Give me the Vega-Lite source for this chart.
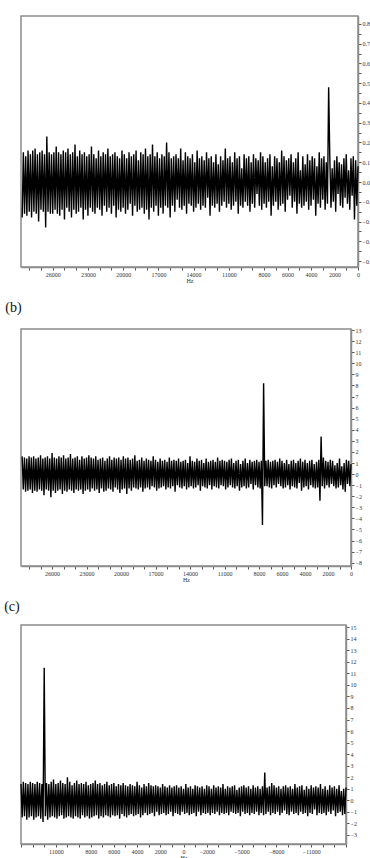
{
"$schema": "https://vega.github.io/schema/vega-lite/v6.json",
"background": "white",
"padding": {"left": 3, "top": 15, "right": 0, "bottom": 0},
"spacing": 16,
"config": {
 "view": {"stroke": "#8c8c8c", "strokeWidth": 1.5},
 "axis": {"labelFont": "Liberation Serif", "titleFont": "Liberation Serif", "labelFontSize": 6, "titleFontSize": 6, "titleFontWeight": "normal", "grid": false, "domainColor": "#8c8c8c", "domainWidth": 1.5, "tickColor": "#555555", "labelColor": "#333333", "titleColor": "#333333", "tickSize": 3, "labelPadding": 1, "titlePadding": 0, "labelOverlap": false, "labelFlush": false},
 "title": {"font": "Liberation Serif", "fontSize": 14, "fontWeight": "normal", "anchor": "start", "dx": -14, "offset": 12, "color": "#111111"}
},
"datasets": {
"a": [
{"f":0,"v":0.08},{"f":100,"v":-0.12},{"f":200,"v":0.11},{"f":300,"v":-0.19},{"f":400,"v":0.13},{"f":500,"v":-0.07},{"f":600,"v":0.12},{"f":700,"v":-0.14},{"f":800,"v":0.06},{"f":900,"v":-0.11},
{"f":1000,"v":0.14},{"f":1100,"v":-0.08},{"f":1200,"v":0.12},{"f":1300,"v":-0.13},{"f":1400,"v":0.09},{"f":1500,"v":-0.12},{"f":1600,"v":0.1},{"f":1700,"v":-0.06},{"f":1800,"v":0.13},{"f":1900,"v":-0.15},
{"f":2000,"v":0.11},{"f":2100,"v":-0.1},{"f":2200,"v":0.07},{"f":2300,"v":-0.13},{"f":2400,"v":0.12},{"f":2500,"v":0.48},{"f":2600,"v":-0.11},{"f":2700,"v":0.1},{"f":2800,"v":-0.14},{"f":2900,"v":0.13},
{"f":3000,"v":-0.09},{"f":3100,"v":0.12},{"f":3200,"v":-0.13},{"f":3300,"v":0.15},{"f":3400,"v":-0.11},{"f":3500,"v":0.08},{"f":3600,"v":-0.17},{"f":3700,"v":0.12},{"f":3800,"v":-0.09},{"f":3900,"v":0.13},
{"f":4000,"v":-0.12},{"f":4100,"v":0.11},{"f":4200,"v":-0.14},{"f":4300,"v":0.14},{"f":4400,"v":-0.1},{"f":4500,"v":0.09},{"f":4600,"v":-0.12},{"f":4700,"v":0.13},{"f":4800,"v":-0.13},{"f":4900,"v":0.06},
{"f":5000,"v":-0.11},{"f":5100,"v":0.15},{"f":5200,"v":-0.16},{"f":5300,"v":0.12},{"f":5400,"v":-0.1},{"f":5500,"v":0.1},{"f":5600,"v":-0.13},{"f":5700,"v":0.14},{"f":5800,"v":-0.07},{"f":5900,"v":0.12},
{"f":6000,"v":-0.09},{"f":6100,"v":0.11},{"f":6200,"v":-0.15},{"f":6300,"v":0.13},{"f":6400,"v":-0.11},{"f":6500,"v":0.16},{"f":6600,"v":-0.12},{"f":6700,"v":0.1},{"f":6800,"v":-0.14},{"f":6900,"v":0.12},
{"f":7000,"v":-0.1},{"f":7100,"v":0.13},{"f":7200,"v":-0.12},{"f":7300,"v":0.08},{"f":7400,"v":-0.17},{"f":7500,"v":0.14},{"f":7600,"v":-0.1},{"f":7700,"v":0.12},{"f":7800,"v":-0.13},{"f":7900,"v":0.1},
{"f":8000,"v":-0.11},{"f":8100,"v":0.13},{"f":8200,"v":-0.14},{"f":8300,"v":0.15},{"f":8400,"v":-0.12},{"f":8500,"v":0.11},{"f":8600,"v":-0.06},{"f":8700,"v":0.12},{"f":8800,"v":-0.13},{"f":8900,"v":0.14},
{"f":9000,"v":-0.11},{"f":9100,"v":0.1},{"f":9200,"v":-0.15},{"f":9300,"v":0.13},{"f":9400,"v":-0.12},{"f":9500,"v":0.12},{"f":9600,"v":-0.1},{"f":9700,"v":0.14},{"f":9800,"v":-0.13},{"f":9900,"v":0.07},
{"f":10000,"v":-0.12},{"f":10100,"v":0.13},{"f":10200,"v":-0.16},{"f":10300,"v":0.12},{"f":10400,"v":-0.1},{"f":10500,"v":0.15},{"f":10600,"v":-0.12},{"f":10700,"v":0.1},{"f":10800,"v":-0.14},{"f":10900,"v":0.13},
{"f":11000,"v":-0.11},{"f":11100,"v":0.12},{"f":11200,"v":-0.13},{"f":11300,"v":0.17},{"f":11400,"v":-0.1},{"f":11500,"v":0.11},{"f":11600,"v":-0.12},{"f":11700,"v":0.13},{"f":11800,"v":-0.15},{"f":11900,"v":0.09},
{"f":12000,"v":-0.11},{"f":12100,"v":0.14},{"f":12200,"v":-0.13},{"f":12300,"v":0.1},{"f":12400,"v":-0.12},{"f":12500,"v":0.13},{"f":12600,"v":-0.17},{"f":12700,"v":0.12},{"f":12800,"v":-0.08},{"f":12900,"v":0.15},
{"f":13000,"v":-0.13},{"f":13100,"v":0.11},{"f":13200,"v":-0.12},{"f":13300,"v":0.13},{"f":13400,"v":-0.14},{"f":13500,"v":0.12},{"f":13600,"v":-0.11},{"f":13700,"v":0.16},{"f":13800,"v":-0.13},{"f":13900,"v":0.1},
{"f":14000,"v":-0.15},{"f":14100,"v":0.14},{"f":14200,"v":-0.12},{"f":14300,"v":0.12},{"f":14400,"v":-0.11},{"f":14500,"v":0.13},{"f":14600,"v":-0.16},{"f":14700,"v":0.15},{"f":14800,"v":-0.12},{"f":14900,"v":0.11},
{"f":15000,"v":-0.14},{"f":15100,"v":0.17},{"f":15200,"v":-0.13},{"f":15300,"v":0.12},{"f":15400,"v":-0.09},{"f":15500,"v":0.14},{"f":15600,"v":-0.15},{"f":15700,"v":0.13},{"f":15800,"v":-0.12},{"f":15900,"v":0.12},
{"f":16000,"v":-0.18},{"f":16100,"v":0.15},{"f":16200,"v":-0.13},{"f":16300,"v":0.2},{"f":16400,"v":-0.12},{"f":16500,"v":0.13},{"f":16600,"v":-0.16},{"f":16700,"v":0.14},{"f":16800,"v":-0.13},{"f":16900,"v":0.12},
{"f":17000,"v":-0.17},{"f":17100,"v":0.15},{"f":17200,"v":-0.12},{"f":17300,"v":0.13},{"f":17400,"v":-0.15},{"f":17500,"v":0.19},{"f":17600,"v":-0.13},{"f":17700,"v":0.14},{"f":17800,"v":-0.19},{"f":17900,"v":0.13},
{"f":18000,"v":-0.14},{"f":18100,"v":0.17},{"f":18200,"v":-0.16},{"f":18300,"v":0.14},{"f":18400,"v":-0.13},{"f":18500,"v":0.15},{"f":18600,"v":-0.14},{"f":18700,"v":0.11},{"f":18800,"v":-0.15},{"f":18900,"v":0.16},
{"f":19000,"v":-0.12},{"f":19100,"v":0.14},{"f":19200,"v":-0.17},{"f":19300,"v":0.13},{"f":19400,"v":-0.11},{"f":19500,"v":0.15},{"f":19600,"v":-0.14},{"f":19700,"v":0.12},{"f":19800,"v":-0.16},{"f":19900,"v":0.14},
{"f":20000,"v":-0.13},{"f":20100,"v":0.16},{"f":20200,"v":-0.15},{"f":20300,"v":0.12},{"f":20400,"v":-0.14},{"f":20500,"v":0.13},{"f":20600,"v":-0.18},{"f":20700,"v":0.15},{"f":20800,"v":-0.12},{"f":20900,"v":0.14},
{"f":21000,"v":-0.16},{"f":21100,"v":0.13},{"f":21200,"v":-0.13},{"f":21300,"v":0.17},{"f":21400,"v":-0.15},{"f":21500,"v":0.14},{"f":21600,"v":-0.12},{"f":21700,"v":0.15},{"f":21800,"v":-0.17},{"f":21900,"v":0.13},
{"f":22000,"v":-0.14},{"f":22100,"v":0.16},{"f":22200,"v":-0.13},{"f":22300,"v":0.12},{"f":22400,"v":-0.16},{"f":22500,"v":0.14},{"f":22600,"v":-0.15},{"f":22700,"v":0.18},{"f":22800,"v":-0.13},{"f":22900,"v":0.14},
{"f":23000,"v":-0.17},{"f":23100,"v":0.13},{"f":23200,"v":-0.14},{"f":23300,"v":0.15},{"f":23400,"v":-0.19},{"f":23500,"v":0.14},{"f":23600,"v":-0.13},{"f":23700,"v":0.16},{"f":23800,"v":-0.15},{"f":23900,"v":0.13},
{"f":24000,"v":-0.16},{"f":24100,"v":0.19},{"f":24200,"v":-0.14},{"f":24300,"v":0.15},{"f":24400,"v":-0.18},{"f":24500,"v":0.14},{"f":24600,"v":-0.15},{"f":24700,"v":0.17},{"f":24800,"v":-0.13},{"f":24900,"v":0.15},
{"f":25000,"v":-0.19},{"f":25100,"v":0.16},{"f":25200,"v":-0.14},{"f":25300,"v":0.14},{"f":25400,"v":-0.17},{"f":25500,"v":0.15},{"f":25600,"v":-0.16},{"f":25700,"v":0.18},{"f":25800,"v":-0.14},{"f":25900,"v":0.15},
{"f":26000,"v":-0.16},{"f":26100,"v":0.14},{"f":26200,"v":-0.16},{"f":26300,"v":0.15},{"f":26400,"v":-0.15},{"f":26500,"v":0.23},{"f":26600,"v":-0.23},{"f":26700,"v":0.14},{"f":26800,"v":-0.15},{"f":26900,"v":0.16},
{"f":27000,"v":-0.14},{"f":27100,"v":0.15},{"f":27200,"v":-0.2},{"f":27300,"v":0.14},{"f":27400,"v":-0.16},{"f":27500,"v":0.17},{"f":27600,"v":-0.15},{"f":27700,"v":0.16},{"f":27800,"v":-0.18},{"f":27900,"v":0.14},
{"f":28000,"v":-0.15},{"f":28100,"v":0.16},{"f":28200,"v":-0.17},{"f":28300,"v":0.13},{"f":28400,"v":-0.16},{"f":28500,"v":0.15},{"f":28600,"v":-0.18}],
"b": [
{"f":0,"v":0.9},{"f":100,"v":-1.1},{"f":200,"v":1.2},{"f":300,"v":-0.9},{"f":400,"v":1.3},{"f":500,"v":-1.6},{"f":600,"v":1.0},{"f":700,"v":-1.4},{"f":800,"v":0.7},{"f":900,"v":-1.0},
{"f":1000,"v":1.4},{"f":1100,"v":-1.2},{"f":1200,"v":1.0},{"f":1300,"v":-1.3},{"f":1400,"v":0.8},{"f":1500,"v":-1.1},{"f":1600,"v":1.2},{"f":1700,"v":-0.9},{"f":1800,"v":1.3},{"f":1900,"v":-1.2},
{"f":2000,"v":1.1},{"f":2100,"v":-1.0},{"f":2200,"v":1.2},{"f":2300,"v":-1.3},{"f":2400,"v":1.5},{"f":2500,"v":-1.1},{"f":2600,"v":3.4},{"f":2700,"v":-2.4},{"f":2800,"v":1.3},{"f":2900,"v":-1.2},
{"f":3000,"v":1.1},{"f":3100,"v":-1.3},{"f":3200,"v":0.9},{"f":3300,"v":-1.2},{"f":3400,"v":1.3},{"f":3500,"v":-1.0},{"f":3600,"v":1.2},{"f":3700,"v":-1.4},{"f":3800,"v":1.0},{"f":3900,"v":-1.1},
{"f":4000,"v":1.3},{"f":4100,"v":-1.2},{"f":4200,"v":1.1},{"f":4300,"v":-1.5},{"f":4400,"v":1.4},{"f":4500,"v":-0.8},{"f":4600,"v":1.2},{"f":4700,"v":-1.3},{"f":4800,"v":1.0},{"f":4900,"v":-1.2},
{"f":5000,"v":1.3},{"f":5100,"v":-1.1},{"f":5200,"v":1.2},{"f":5300,"v":-1.4},{"f":5400,"v":0.9},{"f":5500,"v":-1.0},{"f":5600,"v":1.3},{"f":5700,"v":-1.2},{"f":5800,"v":1.0},{"f":5900,"v":-1.3},
{"f":6000,"v":1.2},{"f":6100,"v":-1.1},{"f":6200,"v":1.4},{"f":6300,"v":-0.9},{"f":6400,"v":1.1},{"f":6500,"v":-1.2},{"f":6600,"v":1.3},{"f":6700,"v":-1.0},{"f":6800,"v":1.2},{"f":6900,"v":-1.3},
{"f":7000,"v":1.1},{"f":7100,"v":-1.2},{"f":7200,"v":1.3},{"f":7300,"v":-1.1},{"f":7400,"v":1.2},{"f":7500,"v":-1.1},{"f":7600,"v":8.2},{"f":7700,"v":-4.6},{"f":7800,"v":1.2},{"f":7900,"v":-1.3},
{"f":8000,"v":1.1},{"f":8100,"v":-1.2},{"f":8200,"v":1.3},{"f":8300,"v":-1.0},{"f":8400,"v":1.2},{"f":8500,"v":-1.4},{"f":8600,"v":1.1},{"f":8700,"v":-0.9},{"f":8800,"v":1.3},{"f":8900,"v":-1.2},
{"f":9000,"v":1.0},{"f":9100,"v":-1.3},{"f":9200,"v":1.4},{"f":9300,"v":-1.1},{"f":9400,"v":1.2},{"f":9500,"v":-1.2},{"f":9600,"v":0.9},{"f":9700,"v":-1.5},{"f":9800,"v":1.3},{"f":9900,"v":-1.1},
{"f":10000,"v":1.2},{"f":10100,"v":-1.3},{"f":10200,"v":1.0},{"f":10300,"v":-1.2},{"f":10400,"v":1.4},{"f":10500,"v":-1.0},{"f":10600,"v":1.3},{"f":10700,"v":-1.2},{"f":10800,"v":1.1},{"f":10900,"v":-1.4},
{"f":11000,"v":1.2},{"f":11100,"v":-1.1},{"f":11200,"v":1.3},{"f":11300,"v":-1.0},{"f":11400,"v":1.2},{"f":11500,"v":-1.3},{"f":11600,"v":1.5},{"f":11700,"v":-1.2},{"f":11800,"v":1.1},{"f":11900,"v":-1.1},
{"f":12000,"v":1.3},{"f":12100,"v":-1.4},{"f":12200,"v":1.2},{"f":12300,"v":-1.0},{"f":12400,"v":1.1},{"f":12500,"v":-1.3},{"f":12600,"v":1.4},{"f":12700,"v":-1.2},{"f":12800,"v":1.0},{"f":12900,"v":-1.1},
{"f":13000,"v":1.3},{"f":13100,"v":-1.5},{"f":13200,"v":1.2},{"f":13300,"v":-1.0},{"f":13400,"v":1.4},{"f":13500,"v":-1.2},{"f":13600,"v":1.1},{"f":13700,"v":-1.3},{"f":13800,"v":1.2},{"f":13900,"v":-1.1},
{"f":14000,"v":1.6},{"f":14100,"v":-1.2},{"f":14200,"v":1.0},{"f":14300,"v":-1.4},{"f":14400,"v":1.3},{"f":14500,"v":-1.1},{"f":14600,"v":1.2},{"f":14700,"v":-1.3},{"f":14800,"v":1.1},{"f":14900,"v":-1.2},
{"f":15000,"v":1.4},{"f":15100,"v":-1.0},{"f":15200,"v":1.2},{"f":15300,"v":-1.6},{"f":15400,"v":1.3},{"f":15500,"v":-1.1},{"f":15600,"v":1.2},{"f":15700,"v":-1.3},{"f":15800,"v":1.5},{"f":15900,"v":-1.2},
{"f":16000,"v":1.1},{"f":16100,"v":-1.4},{"f":16200,"v":1.3},{"f":16300,"v":-1.1},{"f":16400,"v":1.2},{"f":16500,"v":-1.2},{"f":16600,"v":1.4},{"f":16700,"v":-1.3},{"f":16800,"v":1.1},{"f":16900,"v":-1.5},
{"f":17000,"v":1.3},{"f":17100,"v":-1.2},{"f":17200,"v":1.6},{"f":17300,"v":-1.1},{"f":17400,"v":1.2},{"f":17500,"v":-1.4},{"f":17600,"v":1.3},{"f":17700,"v":-1.2},{"f":17800,"v":1.4},{"f":17900,"v":-1.3},
{"f":18000,"v":1.2},{"f":18100,"v":-1.6},{"f":18200,"v":1.5},{"f":18300,"v":-1.2},{"f":18400,"v":1.3},{"f":18500,"v":-1.4},{"f":18600,"v":1.2},{"f":18700,"v":-1.3},{"f":18800,"v":1.7},{"f":18900,"v":-1.2},
{"f":19000,"v":1.4},{"f":19100,"v":-1.5},{"f":19200,"v":1.3},{"f":19300,"v":-1.3},{"f":19400,"v":1.5},{"f":19500,"v":-1.8},{"f":19600,"v":1.4},{"f":19700,"v":-1.3},{"f":19800,"v":1.6},{"f":19900,"v":-1.4},
{"f":20000,"v":1.3},{"f":20100,"v":-1.7},{"f":20200,"v":1.5},{"f":20300,"v":-1.4},{"f":20400,"v":1.4},{"f":20500,"v":-1.2},{"f":20600,"v":1.5},{"f":20700,"v":-1.6},{"f":20800,"v":1.3},{"f":20900,"v":-1.4},
{"f":21000,"v":1.6},{"f":21100,"v":-1.3},{"f":21200,"v":1.4},{"f":21300,"v":-1.5},{"f":21400,"v":1.2},{"f":21500,"v":-1.6},{"f":21600,"v":1.5},{"f":21700,"v":-1.3},{"f":21800,"v":1.4},{"f":21900,"v":-1.7},
{"f":22000,"v":1.3},{"f":22100,"v":-1.4},{"f":22200,"v":1.6},{"f":22300,"v":-1.5},{"f":22400,"v":1.4},{"f":22500,"v":-1.3},{"f":22600,"v":1.5},{"f":22700,"v":-1.6},{"f":22800,"v":1.7},{"f":22900,"v":-1.4},
{"f":23000,"v":1.5},{"f":23100,"v":-1.5},{"f":23200,"v":1.4},{"f":23300,"v":-1.8},{"f":23400,"v":1.6},{"f":23500,"v":-1.4},{"f":23600,"v":1.3},{"f":23700,"v":-1.5},{"f":23800,"v":1.6},{"f":23900,"v":-1.4},
{"f":24000,"v":1.5},{"f":24100,"v":-1.7},{"f":24200,"v":1.4},{"f":24300,"v":-1.5},{"f":24400,"v":1.8},{"f":24500,"v":-1.4},{"f":24600,"v":1.5},{"f":24700,"v":-1.6},{"f":24800,"v":1.4},{"f":24900,"v":-1.5},
{"f":25000,"v":1.7},{"f":25100,"v":-1.8},{"f":25200,"v":1.5},{"f":25300,"v":-1.4},{"f":25400,"v":1.6},{"f":25500,"v":-1.5},{"f":25600,"v":1.4},{"f":25700,"v":-1.7},{"f":25800,"v":1.5},{"f":25900,"v":-1.5},
{"f":26000,"v":1.9},{"f":26100,"v":-2.1},{"f":26200,"v":1.4},{"f":26300,"v":-1.5},{"f":26400,"v":1.6},{"f":26500,"v":-1.4},{"f":26600,"v":1.5},{"f":26700,"v":-1.9},{"f":26800,"v":1.4},{"f":26900,"v":-1.5},
{"f":27000,"v":1.7},{"f":27100,"v":-1.4},{"f":27200,"v":1.5},{"f":27300,"v":-1.6},{"f":27400,"v":1.4},{"f":27500,"v":-1.5},{"f":27600,"v":1.6},{"f":27700,"v":-1.7},{"f":27800,"v":1.5},{"f":27900,"v":-1.4},
{"f":28000,"v":1.6},{"f":28100,"v":-1.5},{"f":28200,"v":1.4},{"f":28300,"v":-1.6},{"f":28400,"v":1.5},{"f":28500,"v":-1.4},{"f":28600,"v":1.6}],
"c": [
{"f":-14000,"v":1.1},{"f":-13900,"v":-1.2},{"f":-13800,"v":1.0},{"f":-13700,"v":-1.3},{"f":-13600,"v":0.8},{"f":-13500,"v":-1.0},{"f":-13400,"v":1.3},{"f":-13300,"v":-1.1},{"f":-13200,"v":1.0},{"f":-13100,"v":-1.4},
{"f":-13000,"v":1.2},{"f":-12900,"v":-0.9},{"f":-12800,"v":1.1},{"f":-12700,"v":-1.2},{"f":-12600,"v":1.3},{"f":-12500,"v":-1.0},{"f":-12400,"v":0.9},{"f":-12300,"v":-1.3},{"f":-12200,"v":1.2},{"f":-12100,"v":-1.1},
{"f":-12000,"v":1.0},{"f":-11900,"v":-1.2},{"f":-11800,"v":1.4},{"f":-11700,"v":-1.1},{"f":-11600,"v":1.1},{"f":-11500,"v":-1.3},{"f":-11400,"v":1.2},{"f":-11300,"v":-0.8},{"f":-11200,"v":1.1},{"f":-11100,"v":-1.2},
{"f":-11000,"v":1.3},{"f":-10900,"v":-1.1},{"f":-10800,"v":1.0},{"f":-10700,"v":-1.4},{"f":-10600,"v":1.2},{"f":-10500,"v":-1.1},{"f":-10400,"v":0.9},{"f":-10300,"v":-1.2},{"f":-10200,"v":1.3},{"f":-10100,"v":-1.0},
{"f":-10000,"v":1.2},{"f":-9900,"v":-1.3},{"f":-9800,"v":1.1},{"f":-9700,"v":-1.1},{"f":-9600,"v":1.4},{"f":-9500,"v":-1.2},{"f":-9400,"v":1.0},{"f":-9300,"v":-1.0},{"f":-9200,"v":1.2},{"f":-9100,"v":-1.3},
{"f":-9000,"v":1.1},{"f":-8900,"v":-1.2},{"f":-8800,"v":1.3},{"f":-8700,"v":-0.9},{"f":-8600,"v":1.2},{"f":-8500,"v":-1.1},{"f":-8400,"v":1.0},{"f":-8300,"v":-1.3},{"f":-8200,"v":1.2},{"f":-8100,"v":-1.0},
{"f":-8000,"v":1.1},{"f":-7900,"v":-1.2},{"f":-7800,"v":1.3},{"f":-7700,"v":-1.1},{"f":-7600,"v":1.5},{"f":-7500,"v":-1.3},{"f":-7400,"v":1.2},{"f":-7300,"v":-1.0},{"f":-7200,"v":1.1},{"f":-7100,"v":-1.2},
{"f":-7000,"v":2.4},{"f":-6900,"v":-1.3},{"f":-6800,"v":1.2},{"f":-6700,"v":-1.1},{"f":-6600,"v":1.0},{"f":-6500,"v":-1.3},{"f":-6400,"v":1.2},{"f":-6300,"v":-1.0},{"f":-6200,"v":1.1},{"f":-6100,"v":-1.2},
{"f":-6000,"v":1.3},{"f":-5900,"v":-1.1},{"f":-5800,"v":1.0},{"f":-5700,"v":-1.3},{"f":-5600,"v":1.2},{"f":-5500,"v":-1.1},{"f":-5400,"v":1.1},{"f":-5300,"v":-1.2},{"f":-5200,"v":1.3},{"f":-5100,"v":-1.0},
{"f":-5000,"v":1.2},{"f":-4900,"v":-1.4},{"f":-4800,"v":1.1},{"f":-4700,"v":-1.1},{"f":-4600,"v":0.9},{"f":-4500,"v":-1.2},{"f":-4400,"v":1.3},{"f":-4300,"v":-1.1},{"f":-4200,"v":1.2},{"f":-4100,"v":-1.0},
{"f":-4000,"v":1.1},{"f":-3900,"v":-1.3},{"f":-3800,"v":1.2},{"f":-3700,"v":-1.1},{"f":-3600,"v":1.0},{"f":-3500,"v":-1.2},{"f":-3400,"v":1.4},{"f":-3300,"v":-1.1},{"f":-3200,"v":1.1},{"f":-3100,"v":-1.3},
{"f":-3000,"v":1.2},{"f":-2900,"v":-1.0},{"f":-2800,"v":1.1},{"f":-2700,"v":-1.2},{"f":-2600,"v":1.3},{"f":-2500,"v":-1.1},{"f":-2400,"v":1.0},{"f":-2300,"v":-1.3},{"f":-2200,"v":1.2},{"f":-2100,"v":-1.1},
{"f":-2000,"v":1.3},{"f":-1900,"v":-1.2},{"f":-1800,"v":1.0},{"f":-1700,"v":-1.1},{"f":-1600,"v":1.2},{"f":-1500,"v":-1.3},{"f":-1400,"v":1.1},{"f":-1300,"v":-1.0},{"f":-1200,"v":1.2},{"f":-1100,"v":-1.4},
{"f":-1000,"v":1.3},{"f":-900,"v":-1.1},{"f":-800,"v":1.0},{"f":-700,"v":-1.2},{"f":-600,"v":1.2},{"f":-500,"v":-1.3},{"f":-400,"v":1.1},{"f":-300,"v":-1.1},{"f":-200,"v":1.4},{"f":-100,"v":-1.2},
{"f":0,"v":1.0},{"f":100,"v":-1.0},{"f":200,"v":1.2},{"f":300,"v":-1.3},{"f":400,"v":1.1},{"f":500,"v":-1.2},{"f":600,"v":1.3},{"f":700,"v":-1.1},{"f":800,"v":1.2},{"f":900,"v":-1.4},
{"f":1000,"v":1.1},{"f":1100,"v":-1.0},{"f":1200,"v":1.3},{"f":1300,"v":-1.2},{"f":1400,"v":1.1},{"f":1500,"v":-1.3},{"f":1600,"v":1.2},{"f":1700,"v":-1.1},{"f":1800,"v":1.4},{"f":1900,"v":-1.2},
{"f":2000,"v":1.1},{"f":2100,"v":-1.3},{"f":2200,"v":1.2},{"f":2300,"v":-1.0},{"f":2400,"v":1.3},{"f":2500,"v":-1.4},{"f":2600,"v":1.2},{"f":2700,"v":-1.1},{"f":2800,"v":1.3},{"f":2900,"v":-1.2},
{"f":3000,"v":1.5},{"f":3100,"v":-1.3},{"f":3200,"v":1.2},{"f":3300,"v":-1.1},{"f":3400,"v":1.4},{"f":3500,"v":-1.3},{"f":3600,"v":1.1},{"f":3700,"v":-1.5},{"f":3800,"v":1.3},{"f":3900,"v":-1.2},
{"f":4000,"v":1.6},{"f":4100,"v":-1.3},{"f":4200,"v":1.2},{"f":4300,"v":-1.4},{"f":4400,"v":1.3},{"f":4500,"v":-1.2},{"f":4600,"v":1.4},{"f":4700,"v":-1.3},{"f":4800,"v":1.2},{"f":4900,"v":-1.5},
{"f":5000,"v":1.3},{"f":5100,"v":-1.4},{"f":5200,"v":1.5},{"f":5300,"v":-1.2},{"f":5400,"v":1.3},{"f":5500,"v":-1.6},{"f":5600,"v":1.4},{"f":5700,"v":-1.3},{"f":5800,"v":1.2},{"f":5900,"v":-1.4},
{"f":6000,"v":1.5},{"f":6100,"v":-1.3},{"f":6200,"v":1.4},{"f":6300,"v":-1.5},{"f":6400,"v":1.3},{"f":6500,"v":-1.4},{"f":6600,"v":1.6},{"f":6700,"v":-1.3},{"f":6800,"v":1.4},{"f":6900,"v":-1.5},
{"f":7000,"v":1.3},{"f":7100,"v":-1.4},{"f":7200,"v":1.5},{"f":7300,"v":-1.6},{"f":7400,"v":1.4},{"f":7500,"v":-1.3},{"f":7600,"v":1.7},{"f":7700,"v":-1.4},{"f":7800,"v":1.5},{"f":7900,"v":-1.5},
{"f":8000,"v":1.4},{"f":8100,"v":-1.6},{"f":8200,"v":1.3},{"f":8300,"v":-1.4},{"f":8400,"v":1.6},{"f":8500,"v":-1.5},{"f":8600,"v":1.4},{"f":8700,"v":-1.3},{"f":8800,"v":1.5},{"f":8900,"v":-1.6},
{"f":9000,"v":1.4},{"f":9100,"v":-1.5},{"f":9200,"v":1.7},{"f":9300,"v":-1.4},{"f":9400,"v":1.5},{"f":9500,"v":-1.6},{"f":9600,"v":1.3},{"f":9700,"v":-1.5},{"f":9800,"v":1.6},{"f":9900,"v":-1.4},
{"f":10000,"v":2.0},{"f":10100,"v":-1.5},{"f":10200,"v":1.4},{"f":10300,"v":-1.6},{"f":10400,"v":1.5},{"f":10500,"v":-1.3},{"f":10600,"v":1.7},{"f":10700,"v":-1.4},{"f":10800,"v":1.5},{"f":10900,"v":-1.6},
{"f":11000,"v":1.4},{"f":11100,"v":-1.5},{"f":11200,"v":1.8},{"f":11300,"v":-1.4},{"f":11400,"v":1.6},{"f":11500,"v":-1.5},{"f":11600,"v":1.4},{"f":11700,"v":-1.7},{"f":11800,"v":1.5},{"f":11900,"v":-1.4},
{"f":12000,"v":11.5},{"f":12100,"v":-1.9},{"f":12200,"v":1.4},{"f":12300,"v":-1.6},{"f":12400,"v":1.5},{"f":12500,"v":-1.4},{"f":12600,"v":1.6},{"f":12700,"v":-1.5},{"f":12800,"v":1.4},{"f":12900,"v":-1.7},
{"f":13000,"v":1.5},{"f":13100,"v":-1.4},{"f":13200,"v":1.6},{"f":13300,"v":-1.5},{"f":13400,"v":1.4},{"f":13500,"v":-1.7},{"f":13600,"v":1.5},{"f":13700,"v":-1.4},{"f":13800,"v":1.6},{"f":13900,"v":-1.5},
{"f":14000,"v":1.4}]
},
"vconcat": [
 {
  "width": 337, "height": 251,
  "data": {"name": "a"},
  "mark": {"type": "line", "color": "black", "strokeWidth": 1.4},
  "encoding": {
   "x": {"field": "f", "type": "quantitative", "scale": {"domain": [0, 28700], "reverse": true, "nice": false, "zero": false},
    "axis": {"title": "Hz", "values": [0,1000,2000,3000,4000,5000,6000,7000,8000,9000,10000,11000,12000,13000,14000,15000,16000,17000,18000,19000,20000,21000,22000,23000,24000,25000,26000,27000,28000],
     "labelExpr": "indexof([26000,23000,20000,17000,14000,11000,8000,6000,4000,2000,0], datum.value) >= 0 ? format(datum.value, 'd') : ''"}},
   "y": {"field": "v", "type": "quantitative", "scale": {"domain": [-0.43, 0.84], "nice": false, "zero": false},
    "axis": {"orient": "right", "title": null, "values": [-0.4,-0.35,-0.3,-0.25,-0.2,-0.15,-0.1,-0.05,0,0.05,0.1,0.15,0.2,0.25,0.3,0.35,0.4,0.45,0.5,0.55,0.6,0.65,0.7,0.75,0.8],
     "labelExpr": "abs(round(datum.value*20)) % 2 == 1 ? '' : format(datum.value, '.1f')"}}
  }
 },
 {
  "width": 330, "height": 237,
  "title": {"text": "(b)"},
  "data": {"name": "b"},
  "mark": {"type": "line", "color": "black", "strokeWidth": 1.4},
  "encoding": {
   "x": {"field": "f", "type": "quantitative", "scale": {"domain": [0, 28700], "reverse": true, "nice": false, "zero": false},
    "axis": {"title": "Hz", "values": [0,1000,2000,3000,4000,5000,6000,7000,8000,9000,10000,11000,12000,13000,14000,15000,16000,17000,18000,19000,20000,21000,22000,23000,24000,25000,26000,27000,28000],
     "labelExpr": "indexof([26000,23000,20000,17000,14000,11000,8000,6000,4000,2000,0], datum.value) >= 0 ? format(datum.value, 'd') : ''"}},
   "y": {"field": "v", "type": "quantitative", "scale": {"domain": [-8.3, 13.1], "nice": false, "zero": false},
    "axis": {"orient": "right", "title": null, "values": [-8,-7,-6,-5,-4,-3,-2,-1,0,1,2,3,4,5,6,7,8,9,10,11,12,13], "format": "d"}}
  }
 },
 {
  "width": 325, "height": 219,
  "title": {"text": "(c)", "offset": 10},
  "data": {"name": "c"},
  "mark": {"type": "line", "color": "black", "strokeWidth": 1.4},
  "encoding": {
   "x": {"field": "f", "type": "quantitative", "scale": {"domain": [-14000, 14000], "reverse": true, "nice": false, "zero": false},
    "axis": {"title": "Hz", "values": [-14000,-13000,-12000,-11000,-10000,-9000,-8000,-7000,-6000,-5000,-4000,-3000,-2000,-1000,0,1000,2000,3000,4000,5000,6000,7000,8000,9000,10000,11000,12000,13000,14000],
     "labelExpr": "indexof([11000,8000,6000,4000,2000,0,-2000,-5000,-8000,-11000], datum.value) >= 0 ? format(datum.value, 'd') : ''"}},
   "y": {"field": "v", "type": "quantitative", "scale": {"domain": [-3.8, 15.2], "nice": false, "zero": false},
    "axis": {"orient": "right", "title": null, "values": [-3,-2,-1,0,1,2,3,4,5,6,7,8,9,10,11,12,13,14,15], "format": "d"}}
  }
 }
]
}
